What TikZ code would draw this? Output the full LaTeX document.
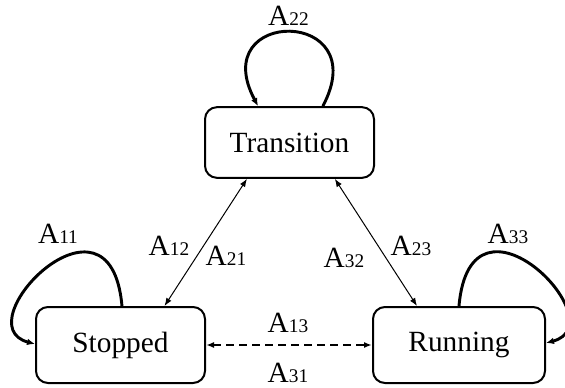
\documentclass[tikz,border=0pt]{standalone}
\usepackage{fontspec}
\setmainfont{Liberation Serif}
\usepackage{tikz}
\usetikzlibrary{arrows.meta,positioning}
\newcommand{\Alab}[1]{A{\fontsize{14.5}{16}\selectfont #1}}
\tikzset{state/.style={rounded corners=9pt,draw=black,line width=1.5pt,minimum width=126.75pt,align=center},selfloop/.style={-{Latex[length=6pt,width=5pt]},line width=2.2pt},link/.style={{Latex[length=6pt,width=4.5pt]}-{Latex[length=6pt,width=4.5pt]},line width=.75pt},dlink/.style={{Latex[length=6pt,width=4.5pt]}-{Latex[length=6pt,width=4.5pt]},line width=1.5pt,dash pattern=on 6pt off 3.75pt},lab/.style={anchor=base,inner sep=0pt}}
\begin{document}
\begin{tikzpicture}[x=0.75pt,y=0.75pt,every node/.style={font=\fontsize{22}{26}\selectfont}]
      \useasboundingbox (0,0) rectangle (565,387);
      \node[state,minimum height=53pt](t) at (289.5,244.5){Transition};
      \node[state,minimum height=57pt](s) at (120.5,42){Stopped};
      \node[state,minimum height=57pt,minimum width=129pt](r) at (459,42){Running};
      % self loops
      \draw[selfloop]([xshift=25pt]t.north) to[out=62,in=118,distance=84pt] ([xshift=-23.6pt]t.north);
      \draw[selfloop]([xshift=1.1pt]s.north) to[out=95,in=165,out distance=100pt,in distance=56pt] ([yshift=.75pt]s.west);
      \draw[selfloop](r.north) to[out=85,in=15,out distance=100pt,in distance=56pt] ([yshift=1.5pt]r.east);
      % transitions between states
      \draw[link]([xshift=33pt]s.north)--([xshift=-31.9pt]t.south);
      \draw[link]([xshift=34pt]t.south)--([xshift=-31.5pt]r.north);
      \draw[dlink](s.east)--(r.west);
      % labels
      \node[lab](a22) at (288.5,362){\Alab{22}};
      \node[lab](a11) at (58,144){\Alab{11}};
      \node[lab](a12) at (169,132){\Alab{12}};
      \node[lab](a21) at (226,122){\Alab{21}};
      \node[lab](a32) at (344,120){\Alab{32}};
      \node[lab](a23) at (411,132){\Alab{23}};
      \node[lab](a33) at (508,144){\Alab{33}};
      \node[lab](a13) at (288,55){\Alab{13}};
      \node[lab](a31) at (288,5){\Alab{31}};
    \end{tikzpicture}
\end{document}
